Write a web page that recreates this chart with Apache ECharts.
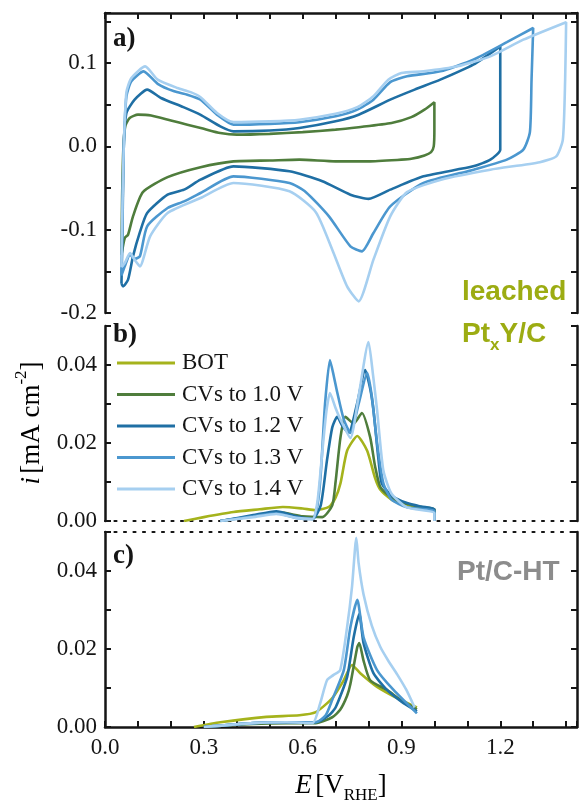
<!DOCTYPE html>
<html>
<head>
<meta charset="utf-8">
<script src="https://cdn.jsdelivr.net/npm/echarts@6/dist/echarts.min.js"></script>
<style>
  html, body { margin: 0; padding: 0; background: #fff; }
  #chart { width: 582px; height: 806px; }
</style>
</head>
<body>
<div id="chart"></div>
<script>
// Series names (legend order) and colours
const seriesNames = ['BOT', 'CVs to 1.0 V', 'CVs to 1.2 V', 'CVs to 1.3 V', 'CVs to 1.4 V'];
const seriesColors = ['#a5b31c', '#4f7d3c', '#1f6fa4', '#4b97cf', '#a6cff0'];

// Panel a: cyclic voltammograms [E / V_RHE, i / mA cm^-2]
const cv10 = [[0.05,-0.13],[0.052,-0.06],[0.056,0.0],[0.062,0.025],[0.075,0.034],[0.1,0.038],[0.14,0.037],[0.2,0.031],[0.25,0.026],[0.3,0.021],[0.35,0.016],[0.4,0.014],[0.5,0.015],[0.6,0.017],[0.7,0.02],[0.77,0.023],[0.87,0.028],[0.93,0.035],[0.97,0.044],[1.0,0.053],[1.0,0.02],[0.998,0.0],[0.99,-0.007],[0.97,-0.011],[0.93,-0.015],[0.9,-0.016],[0.8,-0.018],[0.7,-0.018],[0.59,-0.016],[0.5,-0.017],[0.39,-0.018],[0.29,-0.025],[0.19,-0.037],[0.115,-0.055],[0.085,-0.084],[0.07,-0.106],[0.06,-0.11],[0.05,-0.13]];
const cv12 = [[0.05,-0.165],[0.053,-0.1],[0.057,0.0],[0.065,0.04],[0.09,0.056],[0.128,0.068],[0.17,0.058],[0.238,0.047],[0.289,0.038],[0.35,0.024],[0.39,0.018],[0.5,0.019],[0.59,0.022],[0.7,0.03],[0.77,0.038],[0.866,0.056],[0.94,0.068],[1.018,0.08],[1.118,0.098],[1.2,0.12],[1.2,0.06],[1.2,-0.004],[1.17,-0.016],[1.118,-0.024],[0.967,-0.036],[0.866,-0.052],[0.8,-0.063],[0.745,-0.058],[0.66,-0.042],[0.56,-0.03],[0.39,-0.024],[0.29,-0.04],[0.24,-0.052],[0.19,-0.058],[0.128,-0.08],[0.106,-0.103],[0.085,-0.132],[0.07,-0.16],[0.055,-0.168],[0.05,-0.165]];
const cv13 = [[0.05,-0.155],[0.053,-0.08],[0.057,0.0],[0.065,0.06],[0.08,0.078],[0.117,0.09],[0.16,0.075],[0.21,0.066],[0.25,0.062],[0.29,0.056],[0.34,0.038],[0.39,0.026],[0.5,0.027],[0.59,0.029],[0.7,0.036],[0.766,0.044],[0.815,0.056],[0.866,0.077],[0.917,0.084],[1.018,0.09],[1.118,0.104],[1.22,0.125],[1.3,0.142],[1.295,0.08],[1.29,0.017],[1.27,-0.004],[1.22,-0.016],[1.12,-0.028],[0.967,-0.044],[0.866,-0.072],[0.815,-0.104],[0.78,-0.126],[0.745,-0.12],[0.68,-0.084],[0.61,-0.055],[0.56,-0.044],[0.39,-0.036],[0.29,-0.056],[0.24,-0.066],[0.19,-0.074],[0.128,-0.096],[0.106,-0.132],[0.09,-0.135],[0.076,-0.13],[0.06,-0.144],[0.05,-0.155]];
const cv14 = [[0.05,-0.145],[0.053,-0.07],[0.057,0.0],[0.065,0.065],[0.08,0.082],[0.122,0.096],[0.16,0.08],[0.22,0.07],[0.26,0.065],[0.29,0.059],[0.34,0.04],[0.39,0.029],[0.5,0.03],[0.59,0.032],[0.7,0.039],[0.766,0.047],[0.815,0.06],[0.86,0.08],[0.9,0.088],[0.967,0.09],[1.07,0.096],[1.17,0.108],[1.27,0.128],[1.4,0.149],[1.397,0.08],[1.39,0.008],[1.37,-0.012],[1.32,-0.019],[1.17,-0.028],[1.02,-0.04],[0.917,-0.055],[0.866,-0.084],[0.815,-0.136],[0.77,-0.186],[0.735,-0.168],[0.69,-0.124],[0.64,-0.079],[0.56,-0.054],[0.39,-0.044],[0.29,-0.062],[0.19,-0.08],[0.137,-0.108],[0.106,-0.144],[0.09,-0.136],[0.076,-0.128],[0.06,-0.14],[0.05,-0.145]];

// Panel b: leached PtxY/C stripping currents
const bBOT = [[0.24,0.0],[0.3,0.001],[0.39,0.0023],[0.47,0.003],[0.54,0.0036],[0.6,0.0032],[0.64,0.0028],[0.68,0.0036],[0.7,0.006],[0.715,0.0097],[0.735,0.018],[0.766,0.0218],[0.796,0.018],[0.82,0.011],[0.836,0.008],[0.87,0.0055],[0.896,0.0046],[0.966,0.0033],[1.0,0.0028],[1.0,0.0]];
const b10 = [[0.35,0.0],[0.45,0.0012],[0.53,0.0022],[0.6,0.0012],[0.66,0.001],[0.69,0.004],[0.7,0.01],[0.715,0.0215],[0.73,0.0267],[0.755,0.025],[0.78,0.0277],[0.805,0.0215],[0.82,0.014],[0.836,0.0087],[0.87,0.006],[0.896,0.0049],[0.96,0.0036],[1.0,0.003],[1.0,0.0]];
const b12 = [[0.35,0.0],[0.45,0.0015],[0.52,0.0025],[0.58,0.0012],[0.63,0.0005],[0.655,0.004],[0.674,0.0156],[0.69,0.024],[0.705,0.0267],[0.72,0.0245],[0.74,0.0226],[0.765,0.03],[0.79,0.0387],[0.805,0.034],[0.815,0.0285],[0.83,0.016],[0.84,0.0097],[0.87,0.0065],[0.917,0.0046],[0.96,0.0037],[1.0,0.003],[1.0,0.0]];
const b13 = [[0.35,0.0],[0.45,0.0012],[0.52,0.002],[0.58,0.0008],[0.63,0.0005],[0.645,0.004],[0.655,0.012],[0.668,0.03],[0.683,0.0413],[0.695,0.037],[0.705,0.033],[0.725,0.026],[0.745,0.0226],[0.77,0.03],[0.796,0.038],[0.81,0.032],[0.826,0.02],[0.845,0.0097],[0.87,0.0055],[0.917,0.0035],[1.0,0.0025],[1.0,0.0]];
const b14 = [[0.35,0.0],[0.45,0.001],[0.52,0.0018],[0.58,0.0008],[0.63,0.0005],[0.645,0.005],[0.66,0.018],[0.672,0.028],[0.683,0.0328],[0.7,0.029],[0.715,0.026],[0.745,0.0213],[0.77,0.032],[0.8,0.0459],[0.813,0.038],[0.826,0.0285],[0.845,0.013],[0.87,0.007],[0.917,0.0035],[1.0,0.002],[1.0,0.0]];

// Panel c: Pt/C-HT stripping currents
const cBOT = [[0.27,0.0],[0.35,0.0012],[0.49,0.0026],[0.59,0.003],[0.64,0.0038],[0.69,0.0074],[0.725,0.012],[0.75,0.0159],[0.775,0.0138],[0.826,0.0103],[0.896,0.007],[0.947,0.005]];
const c10 = [[0.3,0.0],[0.45,0.0008],[0.55,0.001],[0.64,0.001],[0.69,0.0025],[0.714,0.0044],[0.735,0.008],[0.745,0.011],[0.766,0.0205],[0.772,0.0215],[0.785,0.017],[0.805,0.012],[0.856,0.0095],[0.896,0.007],[0.947,0.0045]];
const c12 = [[0.3,0.0],[0.45,0.001],[0.55,0.0012],[0.64,0.0012],[0.68,0.003],[0.7,0.005],[0.735,0.0128],[0.755,0.023],[0.772,0.029],[0.785,0.0215],[0.815,0.0138],[0.856,0.0095],[0.9,0.0065],[0.947,0.004]];
const c13 = [[0.3,0.0],[0.45,0.001],[0.55,0.0012],[0.64,0.0012],[0.67,0.003],[0.69,0.007],[0.725,0.0146],[0.745,0.0256],[0.766,0.0326],[0.785,0.023],[0.826,0.0146],[0.876,0.0095],[0.947,0.0035]];
const c14 = [[0.3,0.0],[0.45,0.001],[0.55,0.0012],[0.63,0.001],[0.653,0.006],[0.674,0.012],[0.693,0.0133],[0.714,0.0146],[0.735,0.0256],[0.75,0.036],[0.763,0.0485],[0.77,0.042],[0.785,0.034],[0.81,0.026],[0.836,0.0205],[0.86,0.017],[0.887,0.0135],[0.915,0.0095],[0.94,0.005]];

// Axis ranges and tick spacing
const xRange = [0, 1.433];
const xTickStep = 0.1;
const xLabelStep = 0.3;
const yRangeA = [-0.2, 0.16];
const yTickStepA = 0.05;
const yRangeBC = [0, 0.05];
const yTickStepBC = 0.01;

const SERIF = '"Liberation Serif", "Times New Roman", serif';
const SANS = '"Liberation Sans", Arial, sans-serif';
const INK = '#151515';

function isMultiple(v, step) {
  const q = v / step;
  return Math.abs(q - Math.round(q)) < 1e-6;
}

const solidLine = { show: true, onZero: false, lineStyle: { color: INK, width: 2.5 } };
const dottedLine = { show: true, onZero: false, lineStyle: { color: INK, width: 2.2, type: [2, 7.5] } };
const inTicks = { show: true, inside: true, length: 6, lineStyle: { color: INK, width: 2 } };
const labelFont = { fontFamily: SERIF, fontSize: 23, color: INK };

const xAxes = [
  // panel a: top frame
  { gridIndex: 0, type: 'value', position: 'top', min: xRange[0], max: xRange[1], interval: xTickStep,
    axisLine: solidLine, axisTick: inTicks, axisLabel: { show: false }, splitLine: { show: false } },
  // panel b: dotted zero line
  { gridIndex: 1, type: 'value', position: 'bottom', min: xRange[0], max: xRange[1], interval: xTickStep,
    axisLine: dottedLine, axisTick: { show: false }, axisLabel: { show: false }, splitLine: { show: false } },
  // panel c: bottom axis with labels
  { gridIndex: 2, type: 'value', position: 'bottom', min: xRange[0], max: xRange[1], interval: xTickStep,
    axisLine: solidLine, axisTick: inTicks, splitLine: { show: false },
    axisLabel: Object.assign({ margin: 9, formatter: v => (isMultiple(v, xLabelStep) && v < 1.3) ? v.toFixed(1) : '' }, labelFont) },
  // panel c: dotted top line
  { gridIndex: 2, type: 'value', position: 'top', min: xRange[0], max: xRange[1], interval: xTickStep,
    axisLine: dottedLine, axisTick: { show: false }, axisLabel: { show: false }, splitLine: { show: false } }
];

function yPair(grid, range, step, labelFn) {
  return [
    { gridIndex: grid, type: 'value', position: 'left', min: range[0], max: range[1], interval: step,
      axisLine: solidLine, axisTick: inTicks, splitLine: { show: false },
      axisLabel: Object.assign({ margin: 8, formatter: labelFn }, labelFont) },
    { gridIndex: grid, type: 'value', position: 'right', min: range[0], max: range[1], interval: step,
      axisLine: solidLine, axisTick: inTicks, splitLine: { show: false }, axisLabel: { show: false } }
  ];
}

const labelA = v => {
  if (v > 0.11 || !isMultiple(v, 0.1)) return '';
  return Math.abs(v) < 1e-9 ? '0.0' : v.toFixed(1);
};
const labelBC = v => (isMultiple(v, 0.02) && v < 0.045) ? v.toFixed(2) : '';

const yAxes = [].concat(
  yPair(0, yRangeA, yTickStepA, labelA),
  yPair(1, yRangeBC, yTickStepBC, labelBC),
  yPair(2, yRangeBC, yTickStepBC, labelBC)
);

function line(nameIdx, data, xi, yi) {
  return {
    name: seriesNames[nameIdx], type: 'line', data: data,
    xAxisIndex: xi, yAxisIndex: yi, showSymbol: false, symbol: 'none',
    smooth: 0.2, color: seriesColors[nameIdx],
    lineStyle: { width: 2.6, color: seriesColors[nameIdx] },
    animation: false, silent: true
  };
}

const series = [
  line(1, cv10, 0, 0), line(2, cv12, 0, 0), line(3, cv13, 0, 0), line(4, cv14, 0, 0),
  line(0, bBOT, 1, 2), line(1, b10, 1, 2), line(2, b12, 1, 2), line(3, b13, 1, 2), line(4, b14, 1, 2),
  line(0, cBOT, 2, 4), line(1, c10, 2, 4), line(2, c12, 2, 4), line(3, c13, 2, 4), line(4, c14, 2, 4)
];

const chart = echarts.init(document.getElementById('chart'), null, { renderer: 'canvas' });
chart.setOption({
  backgroundColor: '#ffffff',
  animation: false,
  grid: [
    { left: 105, right: 5, top: 13, height: 300 },
    { left: 105, right: 5, top: 326, height: 195 },
    { left: 105, right: 5, top: 532, height: 195 }
  ],
  xAxis: xAxes,
  yAxis: yAxes,
  legend: {
    data: seriesNames,
    orient: 'vertical',
    left: 112, top: 346,
    icon: 'rect', itemWidth: 58, itemHeight: 3, itemGap: 7.5,
    selectedMode: false,
    textStyle: { fontFamily: SERIF, fontSize: 23, color: INK, lineHeight: 24, padding: [0, 0, 0, 2] }
  },
  graphic: [
    { type: 'text', left: 113, top: 26, style: { text: 'a)', font: 'bold 27px ' + SERIF, fill: INK } },
    { type: 'text', left: 113, top: 322, style: { text: 'b)', font: 'bold 27px ' + SERIF, fill: INK } },
    { type: 'text', left: 113, top: 543, style: { text: 'c)', font: 'bold 27px ' + SERIF, fill: INK } },
    { type: 'text', left: 462, top: 278, style: { text: 'leached', font: 'bold 28px ' + SANS, fill: '#9cac12' } },
    { type: 'text', left: 462, top: 320, style: {
        text: '{m|Pt}{s|x}{m|Y/C}',
        rich: {
          m: { fontFamily: SANS, fontWeight: 'bold', fontSize: 28, fill: '#9cac12', color: '#9cac12', lineHeight: 34, verticalAlign: 'top' },
          s: { fontFamily: SANS, fontWeight: 'bold', fontSize: 17, fill: '#9cac12', color: '#9cac12', lineHeight: 34, verticalAlign: 'bottom' }
        } } },
    { type: 'text', left: 457, top: 558, style: { text: 'Pt/C-HT', font: 'bold 28px ' + SANS, fill: '#8c8c8c' } },
    { type: 'text', x: 341, y: 788, style: {
        text: '{i|E} {m|[V}{s|RHE}{m|]}',
        align: 'center', verticalAlign: 'middle',
        rich: {
          i: { fontFamily: SERIF, fontStyle: 'italic', fontSize: 27, color: INK, lineHeight: 32, verticalAlign: 'top' },
          m: { fontFamily: SERIF, fontSize: 27, color: INK, lineHeight: 32, verticalAlign: 'top' },
          s: { fontFamily: SERIF, fontSize: 17, color: INK, lineHeight: 32, verticalAlign: 'bottom' }
        } } },
    { type: 'text', x: 29, y: 423, rotation: Math.PI / 2, style: {
        text: '{i|i} {m|[mA cm}{s|-2}{m|]}',
        align: 'center', verticalAlign: 'middle',
        rich: {
          i: { fontFamily: SERIF, fontStyle: 'italic', fontSize: 27, color: INK, lineHeight: 32, verticalAlign: 'bottom' },
          m: { fontFamily: SERIF, fontSize: 27, color: INK, lineHeight: 32, verticalAlign: 'bottom' },
          s: { fontFamily: SERIF, fontSize: 17, color: INK, lineHeight: 32, verticalAlign: 'top' }
        } } }
  ],
  series: series
});
</script>
</body>
</html>
